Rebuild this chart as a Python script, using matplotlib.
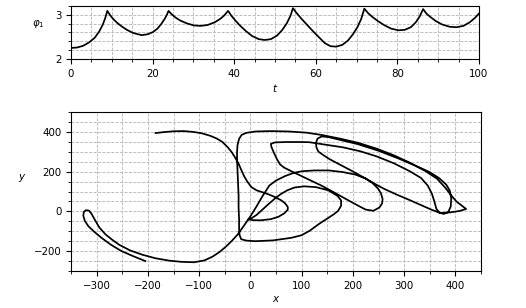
import numpy as np
import matplotlib.pyplot as plt
from matplotlib.ticker import MultipleLocator

# top panel: phi_1(t)
t = [0, 1.5, 3, 4.5, 5.8, 6.9, 7.8, 8.4, 8.9, 9.6, 10.4, 11.3, 12.4, 13.7, 15.2,
     17.3, 18.8, 20.1, 21.2, 22.1, 22.9, 23.5, 23.9, 24.7, 25.6, 26.8, 28.3,
     30.1, 31.8, 33.5, 35.2, 36.6, 37.6, 38.5, 39.3, 40.3, 41.5, 42.9, 44.4,
     46, 47.5, 49, 50.5, 51.8, 52.9, 53.8, 54.4, 55.3, 56.4, 57.7, 59.2, 60.8,
     62.2, 63.6, 65, 66.5, 67.9, 69.1, 70.2, 71.1, 71.9, 72.8, 73.9, 75.2,
     76.7, 78.4, 80.2, 81.8, 83.3, 84.5, 85.5, 86.3, 87.1, 88.1, 89.4, 91,
     92.8, 94.5, 96.2, 97.7, 99, 100]
phi1 = [2.25, 2.26, 2.30, 2.38, 2.48, 2.62, 2.78, 2.93, 3.09, 2.99, 2.90, 2.82,
        2.74, 2.66, 2.59, 2.54, 2.56, 2.61, 2.69, 2.79, 2.90, 3.00, 3.09, 3.01,
        2.94, 2.87, 2.81, 2.76, 2.75, 2.77, 2.83, 2.91, 2.99, 3.09, 2.98, 2.87,
        2.75, 2.63, 2.52, 2.45, 2.43, 2.45, 2.53, 2.66, 2.81, 2.98, 3.15, 3.04,
        2.92, 2.79, 2.64, 2.49, 2.36, 2.29, 2.28, 2.32, 2.42, 2.56, 2.72, 2.90,
        3.14, 3.04, 2.95, 2.86, 2.77, 2.69, 2.65, 2.66, 2.72, 2.83, 2.97, 3.13,
        3.03, 2.95, 2.86, 2.78, 2.73, 2.72, 2.75, 2.83, 2.93, 3.03]

# bottom panel: trajectory (x, y)
x_traj = [-205, -230, -252, -272, -290, -304, -316, -323, -326, -325, -321, -315,
          -310, -304, -295, -283, -270, -256, -235, -211, -185, -158, -134, -110,
          -90, -74, -60, -48, -36, -25,
          -12, 0, 12, 24, 37, 50, 68, 85, 101, 125, 153, 180, 205, 225, 238, 249,
          255, 258, 257, 252, 240, 225, 213, 195, 177, 160, 140, 118, 98, 80, 66,
          58, 52, 46, 41, 40, 48, 70, 95, 115, 140, 181, 215, 246, 280, 311, 333,
          346, 354, 359, 363, 369, 377, 386, 391, 392, 389, 382, 368, 348, 320,
          290, 250, 210, 175, 152, 139, 131, 128, 129, 133, 143, 155, 177, 200,
          223, 246, 262, 285, 308, 331, 352, 370, 390, 408, 421, 412, 402, 392,
          380, 364, 340, 311, 280, 246, 210, 175, 140, 110, 75, 40, 10, -8, -17,
          -22, -25, -26, -26, -25, -24, -23, -23, -22, -22, -21, -18, -8, 10, 44,
          80, 100, 116, 134, 150, 162, 171, 177, 177, 170, 152, 128, 105, 86, 72,
          60, 49, 36, 23, 12, 2, -4,
          5, 20, 40, 55, 66, 73, 73, 68, 60, 48, 37, 25, 12, 2, -6, -12, -18, -23,
          -30, -37, -45, -55, -66, -78, -95, -112, -130, -150, -168, -185]
y_traj = [-250, -224, -199, -168, -134, -104, -75, -48, -22, -3, 6, 4,
          -12, -40, -80, -115, -142, -168, -196, -218, -236, -248, -254, -256,
          -247, -228, -204, -178, -148, -117,
          -70, -25, 25, 78, 130, 155, 178, 194, 202, 206, 206, 198, 185, 165, 143,
          115, 90, 62, 40, 20, 3, 9, 25, 50, 76, 100, 128, 155, 180, 202, 220,
          236, 262, 294, 325, 340, 347, 349, 349, 348, 338, 322, 302, 277, 242,
          202, 168, 130, 90, 50, 12, -6, -13, -4, 25, 65, 105, 135, 168, 200, 232,
          265, 305, 338, 360, 374, 377, 366, 345, 320, 300, 282, 262, 232, 201,
          168, 134, 112, 85, 60, 34, 10, -8, -5, 2, 12, 30, 50, 80, 120, 165, 205,
          245, 282, 316, 345, 366, 384, 396, 402, 404, 402, 395, 385, 365, 335,
          300, 260, 200, 140, 80, 20, -40, -90, -120, -140, -147, -150, -146,
          -133, -120, -97, -63, -36, -16, 2, 28, 55, 78, 106, 122, 126, 120, 106,
          88, 67, 38, 8, -18, -35, -40,
          -44, -45, -39, -27, -10, 8, 22, 40, 56, 72, 84, 95, 106, 122, 150, 176,
          210, 240, 272, 300, 325, 350, 367, 380, 393, 400, 404, 403, 399, 394]

plt.rcParams['font.size'] = 7.4

fig = plt.figure(figsize=(5.26, 3.08), dpi=100)
W, H = 526, 308
ax1 = fig.add_axes([71 / W, 1 - 59 / H, 408 / W, 53 / H])
ax2 = fig.add_axes([71 / W, 1 - 271 / H, 410 / W, 159 / H])

ax1.plot(t, phi1, color='black', lw=1.25)
ax1.set_xlim(0, 100)
ax1.set_ylim(2, 3.2)
ax1.xaxis.set_major_locator(MultipleLocator(20))
ax1.xaxis.set_minor_locator(MultipleLocator(5))
ax1.yaxis.set_major_locator(MultipleLocator(1))
ax1.yaxis.set_minor_locator(MultipleLocator(0.2))
ax1.set_xlabel('$t$', labelpad=2)
ax1.set_ylabel(r'$\varphi_1$', rotation=0)
ax1.yaxis.set_label_coords(-0.08, 0.55)

ax2.plot(x_traj, y_traj, color='black', lw=1.25)
ax2.set_xlim(-350, 450)
ax2.set_ylim(-300, 500)
ax2.xaxis.set_major_locator(MultipleLocator(100))
ax2.xaxis.set_minor_locator(MultipleLocator(50))
ax2.yaxis.set_major_locator(MultipleLocator(200))
ax2.yaxis.set_minor_locator(MultipleLocator(50))
ax2.set_xlabel('$x$', labelpad=2)
ax2.set_ylabel('$y$', rotation=0)
ax2.yaxis.set_label_coords(-0.12, 0.55)

for ax in (ax1, ax2):
    ax.grid(which='both', linestyle='--', linewidth=0.6, color='#b4b4b4')
    ax.tick_params(which='major', length=3.5, width=0.8)
    ax.tick_params(which='minor', length=2, width=0.6)
    ax.set_axisbelow(True)

fig.savefig('out.png', dpi=100)
